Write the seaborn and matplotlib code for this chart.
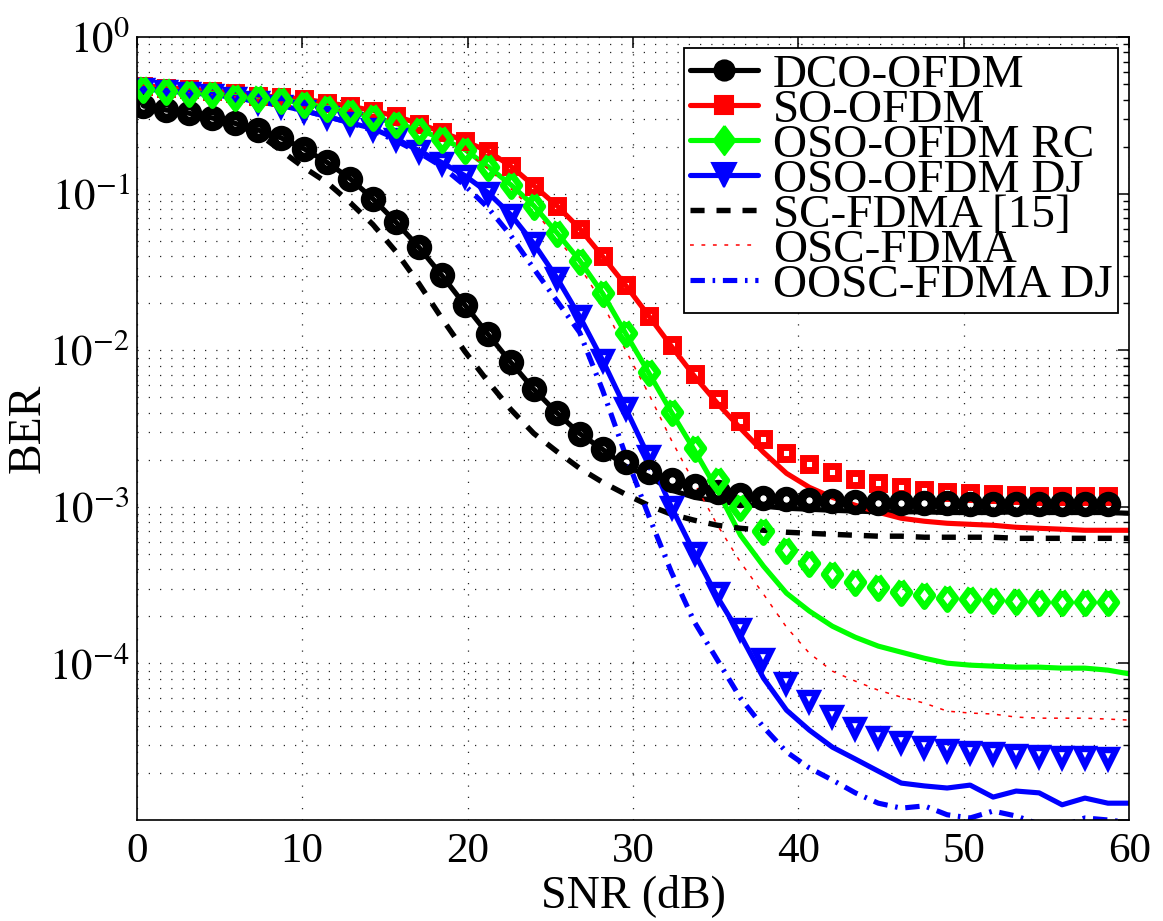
import numpy as np
import matplotlib
matplotlib.use("Agg")
import matplotlib.pyplot as plt
import seaborn as sns
from matplotlib.lines import Line2D
from matplotlib.ticker import LogLocator, NullFormatter, FixedLocator

# ---------------- data ----------------
snr = [0.40, 1.79, 3.18, 4.57, 5.95, 7.34, 8.73, 10.12, 11.51, 12.90, 14.28,
       15.67, 17.06, 18.45, 19.84, 21.23, 22.61, 24.00, 25.39, 26.78, 28.17,
       29.56, 30.94, 32.33, 33.72, 35.11, 36.50, 37.89, 39.28, 40.66, 42.05,
       43.44, 44.83, 46.22, 47.61, 48.99, 50.38, 51.77, 53.16, 54.55, 55.94,
       57.32, 58.71, 60.10]
snr_mk = snr[:43]

labels = ["DCO-OFDM", "SO-OFDM", "OSO-OFDM RC", "OSO-OFDM DJ",
          "SC-FDMA [15]", "OSC-FDMA", "OOSC-FDMA DJ"]

# simulated points (markers)
dco_mk = [0.366, 0.343, 0.327, 0.305, 0.282, 0.256, 0.228, 0.194, 0.159, 0.125,
          0.093, 0.066, 0.0456, 0.0301, 0.0195, 0.0127, 0.0084, 0.00565, 0.0040,
          0.00294, 0.00233, 0.00193, 0.00166, 0.00148, 0.00135, 0.00125, 0.00119,
          0.00114, 0.00112, 0.00110, 0.00109, 0.00107, 0.00106, 0.00106, 0.00106,
          0.00106, 0.00105, 0.00105, 0.00105, 0.00105, 0.00105, 0.00105, 0.00105]
so_mk = [0.491, 0.477, 0.466, 0.456, 0.440, 0.424, 0.415, 0.403, 0.382, 0.363,
         0.340, 0.3135, 0.281, 0.248, 0.217, 0.1875, 0.1504, 0.1129, 0.0842, 0.0600,
         0.0398, 0.0260, 0.0167, 0.01075, 0.00702, 0.00486, 0.00352, 0.00270,
         0.00220, 0.001884, 0.001663, 0.001501, 0.001415, 0.001334, 0.001276,
         0.001240, 0.001221, 0.001203, 0.001186, 0.001177, 0.001169, 0.001169,
         0.001169]
rc_mk = [0.470, 0.456, 0.443, 0.4365, 0.418, 0.412, 0.400, 0.377, 0.355, 0.335,
         0.311, 0.281, 0.257, 0.2253, 0.1917, 0.1493, 0.1146, 0.0842, 0.0566,
         0.0375, 0.0231, 0.01282, 0.00723, 0.00402, 0.002366, 0.001478, 0.000994,
         0.000699, 0.000528, 0.000437, 0.000371, 0.000330, 0.000307, 0.000285,
         0.000273, 0.000261, 0.000257, 0.000253, 0.000250, 0.000246, 0.000246,
         0.000246, 0.000246]
dj_mk = [0.470, 0.456, 0.443, 0.430, 0.412, 0.388, 0.366, 0.340, 0.311, 0.285,
         0.261, 0.2253, 0.1889, 0.1583, 0.1308, 0.1019, 0.0737, 0.0482, 0.0292,
         0.01646, 0.00863, 0.00426, 0.002104, 0.000994, 0.000506, 0.000281,
         0.0001655, 0.0001065, 0.0000748, 0.0000574, 0.0000461, 0.0000386,
         0.0000338, 0.0000314, 0.0000292, 0.0000280, 0.0000272, 0.0000268,
         0.0000260, 0.0000256, 0.0000252, 0.0000252, 0.0000249]

# curves (lines)
dco_line = [0.366, 0.343, 0.327, 0.305, 0.282, 0.256, 0.228, 0.194, 0.159, 0.125,
            0.093, 0.066, 0.0456, 0.0301, 0.0195, 0.0127, 0.0084, 0.00565, 0.0040,
            0.00294, 0.00233, 0.00182, 0.00157, 0.00128, 0.00115, 0.00109, 0.00104,
            0.00101, 0.00098, 0.000966, 0.000951, 0.00094, 0.00093, 0.00093,
            0.00093, 0.00092, 0.00092, 0.00092, 0.00093, 0.00092, 0.00092, 0.00092,
            0.00092, 0.00091]
so_line = [0.491, 0.477, 0.466, 0.456, 0.440, 0.424, 0.415, 0.403, 0.382, 0.363,
           0.340, 0.3135, 0.281, 0.248, 0.217, 0.1875, 0.1504, 0.1129, 0.0842,
           0.0600, 0.0398, 0.0260, 0.0167, 0.0106, 0.00682, 0.00458, 0.003175,
           0.002232, 0.001639, 0.001334, 0.001151, 0.001024, 0.000924, 0.000846,
           0.000810, 0.000786, 0.000774, 0.000763, 0.000741, 0.000730, 0.000720,
           0.000709, 0.000709, 0.000709]
rc_line = [0.470, 0.456, 0.443, 0.4365, 0.418, 0.412, 0.400, 0.377, 0.355, 0.335,
           0.311, 0.281, 0.257, 0.2253, 0.1917, 0.1493, 0.1146, 0.0842, 0.0566,
           0.0375, 0.0231, 0.01282, 0.00723, 0.00402, 0.002297, 0.001276,
           0.000659, 0.000418, 0.000281, 0.000216, 0.000173, 0.000147, 0.000129,
           0.000118, 0.000108, 0.0001004, 0.0000975, 0.0000961, 0.0000947,
           0.0000947, 0.0000933, 0.0000933, 0.0000906, 0.0000854]
dj_line = [0.470, 0.456, 0.443, 0.430, 0.412, 0.388, 0.366, 0.340, 0.311, 0.285,
           0.261, 0.2253, 0.1889, 0.1583, 0.1308, 0.1019, 0.0737, 0.0482, 0.0292,
           0.01646, 0.00863, 0.00426, 0.002104, 0.000994, 0.000506, 0.000265,
           0.0001515, 0.0000805, 0.0000503, 0.0000375, 0.0000292, 0.0000245,
           0.0000205, 0.0000172, 0.0000165, 0.0000160, 0.0000167, 0.0000140,
           0.0000153, 0.0000149, 0.0000125, 0.0000138, 0.0000128, 0.0000128]
sc_line = [0.366, 0.344, 0.325, 0.302, 0.277, 0.2425, 0.1889, 0.1471, 0.1180,
           0.0880, 0.0637, 0.0428, 0.0267, 0.0160, 0.00984, 0.00633, 0.00420,
           0.00295, 0.002264, 0.001764, 0.001436, 0.001203, 0.001024, 0.000897,
           0.000821, 0.000763, 0.000730, 0.000709, 0.000689, 0.000678, 0.000668,
           0.000659, 0.000650, 0.000650, 0.000640, 0.000640, 0.000640, 0.000640,
           0.000630, 0.000630, 0.000630, 0.000630, 0.000630, 0.000630]
osc_line = [0.470, 0.456, 0.443, 0.4365, 0.418, 0.412, 0.400, 0.377, 0.355, 0.335,
            0.311, 0.281, 0.257, 0.2253, 0.1889, 0.145, 0.108, 0.0782, 0.0526,
            0.0343, 0.01993, 0.00999, 0.00531, 0.00266, 0.001415, 0.000763,
            0.000443, 0.000277, 0.0001704, 0.0001163, 0.0000893, 0.0000771,
            0.0000675, 0.0000609, 0.0000558, 0.0000496, 0.0000482, 0.0000475,
            0.0000454, 0.0000447, 0.0000447, 0.0000447, 0.0000441, 0.0000434]
oosc_line = [0.470, 0.456, 0.443, 0.430, 0.412, 0.388, 0.366, 0.340, 0.311, 0.285,
             0.2533, 0.2188, 0.1834, 0.1493, 0.1129, 0.0817, 0.0542, 0.0333,
             0.0208, 0.0130, 0.00555, 0.002135, 0.000884, 0.000382, 0.0001834,
             0.000105, 0.0000600, 0.0000392, 0.0000272, 0.0000215, 0.0000180,
             0.0000149, 0.0000128, 0.0000119, 0.0000123, 0.0000108, 0.0000103,
             0.0000114, 0.0000106, 0.0000094, 0.0000091, 0.0000103, 0.0000100,
             0.0000096]

xticks = [0, 10, 20, 30, 40, 50, 60]
yticks = [1e-5, 1e-4, 1e-3, 1e-2, 1e-1, 1e0]
ytick_labels = ["", r"$10^{-4}$", r"$10^{-3}$", r"$10^{-2}$", r"$10^{-1}$", r"$10^{0}$"]

# ---------------- style ----------------
sns.set_theme(style="white")
plt.rcParams.update({
    "font.family": ["Liberation Serif", "DejaVu Serif"],
    "mathtext.fontset": "stix",
    "axes.edgecolor": "black",
    "axes.linewidth": 1.2,
    "xtick.color": "black",
    "ytick.color": "black",
    "text.color": "black",
    "axes.labelcolor": "black",
})

RED, GREEN, BLUE, BLACK = "#ff0000", "#00ff00", "#0000ff", "#000000"
LW = 3.7
ls_dash = (0, (2.6, 2.2))
ls_dot = (0, (2.5, 5.0))
ls_dashdot = (0, (2.8, 1.5, 0.5, 1.5))
diamond = [(0, 1), (0.75, 0), (0, -1), (-0.75, 0), (0, 1)]

fig = plt.figure(figsize=(11.63, 9.21), dpi=100)
ax = fig.add_axes([0.1175, 0.1097, 0.8535, 0.8498])
ax.set_yscale("log")

common = dict(ax=ax, estimator=None, sort=False)

# lines
sns.lineplot(x=snr, y=dco_line, color=BLACK, linewidth=LW, **common)
sns.lineplot(x=snr, y=so_line, color=RED, linewidth=LW, **common)
sns.lineplot(x=snr, y=rc_line, color=GREEN, linewidth=LW, **common)
sns.lineplot(x=snr, y=dj_line, color=BLUE, linewidth=LW, **common)
sns.lineplot(x=snr, y=sc_line, color=BLACK, linewidth=3.9, linestyle=ls_dash, **common)
sns.lineplot(x=snr, y=osc_line, color=RED, linewidth=1.1, linestyle=ls_dot, **common)
sns.lineplot(x=snr, y=oosc_line, color=BLUE, linewidth=LW, linestyle=ls_dashdot, **common)

# markers (unfilled, thick edges)
sns.lineplot(x=snr_mk, y=so_mk, color=RED, linestyle="", marker="s", markersize=8.5,
             markerfacecolor="none", markeredgecolor=RED, markeredgewidth=5.0, **common)
sns.lineplot(x=snr_mk, y=dj_mk, color=BLUE, linestyle="", marker="v", markersize=12,
             markerfacecolor="none", markeredgecolor=BLUE, markeredgewidth=4.6, **common)
sns.lineplot(x=snr_mk, y=dco_mk, color=BLACK, linestyle="", marker="o", markersize=11.5,
             markerfacecolor="none", markeredgecolor=BLACK, markeredgewidth=6.8, **common)
sns.lineplot(x=snr_mk, y=rc_mk, color=GREEN, linestyle="", marker=diamond, markersize=16,
             markerfacecolor="none", markeredgecolor=GREEN, markeredgewidth=4.8, **common)

# axes
ax.set_xlim(0, 60)
ax.set_ylim(1e-5, 1)
ax.set_xticks(xticks)
ax.set_xticklabels([str(v) for v in xticks])
ax.yaxis.set_major_locator(FixedLocator(yticks))
ax.set_yticklabels(ytick_labels)
ax.yaxis.set_minor_locator(LogLocator(base=10, subs=np.arange(2, 10), numticks=20))
ax.yaxis.set_minor_formatter(NullFormatter())
ax.tick_params(which="both", direction="in", top=True, right=True, labelsize=31)
ax.tick_params(which="major", length=8, width=1.1)
ax.tick_params(which="minor", length=4, width=1.0)
ax.tick_params(axis="x", pad=9)
ax.tick_params(axis="y", pad=5)

grid_kw = dict(color="0.15", linewidth=0.9, linestyle=(0, (1, 8)))
ax.grid(True, which="major", axis="x", **grid_kw)
ax.grid(True, which="both", axis="y", **grid_kw)
ax.set_axisbelow(True)
for s in ax.spines.values():
    s.set_visible(True)
    s.set_color("black")
    s.set_linewidth(1.2)

ax.set_xlabel("SNR (dB)", fontsize=33, labelpad=2)
ax.set_ylabel("BER", fontsize=33, labelpad=0)

# legend
handles = [
    Line2D([], [], color=BLACK, lw=LW, marker="o", ms=14, mfc=BLACK, mec=BLACK, mew=2),
    Line2D([], [], color=RED, lw=LW, marker="s", ms=13, mfc=RED, mec=RED, mew=1.5),
    Line2D([], [], color=GREEN, lw=LW, marker=diamond, ms=21, mfc=GREEN, mec=GREEN, mew=1.5),
    Line2D([], [], color=BLUE, lw=LW, marker="v", ms=17, mfc=BLUE, mec=BLUE, mew=1.5),
    Line2D([], [], color=BLACK, lw=3.9, linestyle=ls_dash),
    Line2D([], [], color=RED, lw=1.1, linestyle=ls_dot),
    Line2D([], [], color=BLUE, lw=LW, linestyle=ls_dashdot),
]
leg = ax.legend(handles, labels, loc="upper right", bbox_to_anchor=(0.9886, 0.9863),
                fontsize=34, frameon=True, fancybox=False, edgecolor="black",
                framealpha=1, borderpad=0.12, labelspacing=-0.17, handlelength=1.45,
                handletextpad=0.3, borderaxespad=0)
leg.get_frame().set_linewidth(1.3)

fig.savefig("out.png", dpi=100)
